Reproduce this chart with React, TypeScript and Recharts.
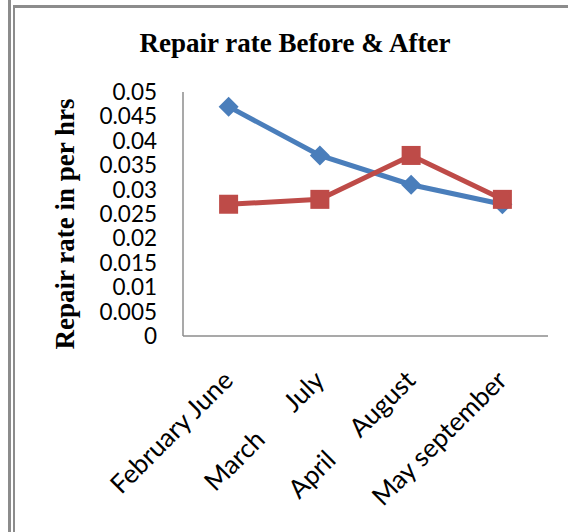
import React from "react";
import { LineChart, Line, XAxis, YAxis } from "recharts";

const months = ["February June", "March      July", "April     August", "May september"];
const beforeRate = [0.047, 0.037, 0.031, 0.027];
const afterRate = [0.027, 0.028, 0.037, 0.028];
const yTicks = [0, 0.005, 0.01, 0.015, 0.02, 0.025, 0.03, 0.035, 0.04, 0.045, 0.05];

const data = months.map((m, i) => ({ month: m, before: beforeRate[i], after: afterRate[i] }));

const BLUE = "#4A7EBB";
const RED = "#BE4B48";
const FRAME = "#8c8c8c";

function XTick({ x, y, payload }: any) {
  const ax = x + 6;
  const ay = y + 46;
  return (
    <text
      x={ax}
      y={ay}
      transform={`rotate(-45, ${ax}, ${ay})`}
      textAnchor="end"
      fontFamily="Lato"
      fontSize={26}
      fill="#000"
      style={{ whiteSpace: "pre" }}
    >
      {payload.value}
    </text>
  );
}

function Diamond({ cx, cy }: any) {
  if (cx == null || cy == null) return null;
  const r = 10;
  return (
    <polygon
      points={`${cx},${cy - r} ${cx + r},${cy} ${cx},${cy + r} ${cx - r},${cy}`}
      fill={BLUE}
    />
  );
}

function Square({ cx, cy }: any) {
  if (cx == null || cy == null) return null;
  const s = 19;
  return <rect x={cx - s / 2} y={cy - s / 2} width={s} height={s} fill={RED} />;
}

function YLabel({ viewBox }: any) {
  const cx = 74;
  const cy = viewBox.y + viewBox.height / 2 + 10;
  return (
    <text
      x={cx}
      y={cy}
      transform={`rotate(-90, ${cx}, ${cy})`}
      textAnchor="middle"
      fontFamily="Liberation Serif"
      fontWeight="bold"
      fontSize={27}
      fill="#000"
    >
      Repair rate in per hrs
    </text>
  );
}

export default function App() {
  return (
    <div style={{ position: "absolute", left: 0, top: 0, width: 568, height: 532, background: "#fff", overflow: "hidden" }}>
      {/* frame lines */}
      <div style={{ position: "absolute", left: 8, top: 0, width: 2.5, height: 532, background: FRAME }} />
      <div style={{ position: "absolute", left: 12.5, top: 5, width: 2.5, height: 527, background: FRAME }} />
      <div style={{ position: "absolute", left: 12.5, top: 5, width: 556, height: 2.5, background: FRAME }} />

      <div
        style={{
          position: "absolute",
          left: 0,
          width: 590,
          top: 30,
          textAlign: "center",
          fontFamily: "Liberation Serif",
          fontWeight: "bold",
          fontSize: 27,
          lineHeight: "26px",
          color: "#000",
        }}
      >
        Repair rate Before &amp; After
      </div>

      <div style={{ position: "absolute", left: 0, top: 0 }}>
        <LineChart width={568} height={532} data={data} margin={{ top: 92, right: 20, bottom: 0, left: 0 }}>
          <XAxis
            dataKey="month"
            height={196}
            interval={0}
            tickLine={false}
            tickSize={0}
            tickMargin={0}
            axisLine={{ stroke: FRAME, strokeWidth: 1.5 }}
            padding={{ left: 45.6, right: 45.6 }}
            tick={<XTick />}
          />
          <YAxis
            width={183}
            domain={[0, 0.05]}
            ticks={yTicks}
            interval={0}
            tickLine={false}
            tickSize={0}
            tickMargin={26}
            axisLine={{ stroke: FRAME, strokeWidth: 1.5 }}
            tick={{ fill: "#000", fontSize: 22.5, fontFamily: "Lato" }}
            label={{ content: <YLabel /> }}
          />
          <Line
            dataKey="before"
            stroke={BLUE}
            strokeWidth={5}
            dot={<Diamond />}
            activeDot={false}
            isAnimationActive={false}
          />
          <Line
            dataKey="after"
            stroke={RED}
            strokeWidth={5}
            dot={<Square />}
            activeDot={false}
            isAnimationActive={false}
          />
        </LineChart>
      </div>
    </div>
  );
}
